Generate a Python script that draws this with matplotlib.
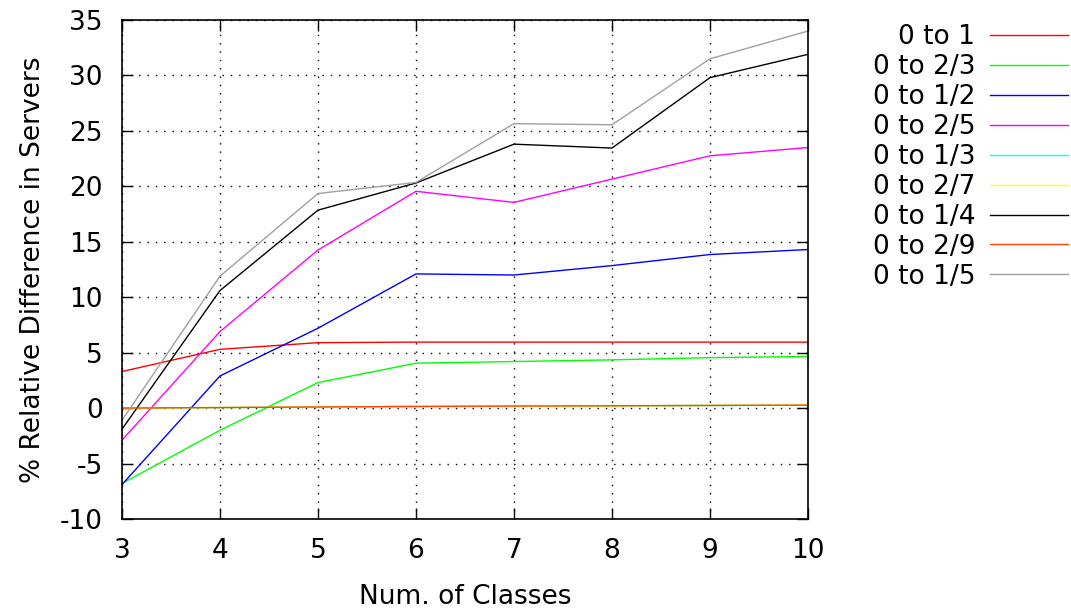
import numpy as np
import matplotlib
matplotlib.use('Agg')
import matplotlib.pyplot as plt

# number of classes on the x axis
classes = [3, 4, 5, 6, 7, 8, 9, 10]

# % relative difference in servers, one list per range
diff_1 = [3.3, 5.3, 5.9, 5.95, 5.95, 5.95, 5.95, 5.95]
diff_2_3 = [-6.8, -2.0, 2.3, 4.05, 4.2, 4.35, 4.55, 4.65]
diff_1_2 = [-6.9, 2.9, 7.2, 12.1, 12.0, 12.85, 13.85, 14.3]
diff_2_5 = [-2.9, 6.9, 14.25, 19.55, 18.55, 20.65, 22.75, 23.5]
diff_1_3 = [0.0, 0.04, 0.1, 0.14, 0.17, 0.2, 0.23, 0.26]
diff_2_7 = [0.0, 0.05, 0.1, 0.15, 0.18, 0.2, 0.24, 0.27]
diff_1_4 = [-1.9, 10.6, 17.85, 20.3, 23.8, 23.45, 29.8, 31.9]
diff_2_9 = [0.0, 0.05, 0.1, 0.15, 0.18, 0.21, 0.24, 0.27]
diff_1_5 = [-1.1, 11.9, 19.35, 20.35, 25.65, 25.55, 31.5, 34.0]

labels = ['0 to 1', '0 to 2/3', '0 to 1/2', '0 to 2/5', '0 to 1/3',
          '0 to 2/7', '0 to 1/4', '0 to 2/9', '0 to 1/5']
series = [diff_1, diff_2_3, diff_1_2, diff_2_5, diff_1_3,
          diff_2_7, diff_1_4, diff_2_9, diff_1_5]
colors = ['#ff0000', '#00ff00', '#0000ff', '#ff00ff', '#00ffff',
          '#ffff00', '#000000', '#ff4500', '#a0a0a0']

plt.rcParams['font.family'] = ['DejaVu Sans']
plt.rcParams['axes.unicode_minus'] = False
fig = plt.figure(figsize=(10.71, 6.11), dpi=100)
ax = fig.add_axes([0.1139, 0.1506, 0.6405, 0.8167])

for vals, lab, col in zip(series, labels, colors):
    ax.plot(classes, vals, color=col, lw=1.0, label=lab)

ax.set_xlim(3, 10)
ax.set_ylim(-10, 35)
ax.set_xticks(classes)
ax.set_yticks(np.arange(-10, 36, 5))
ax.grid(True, color='black', linestyle=(0, (1, 5)), linewidth=1.0)
ax.tick_params(direction='in', length=8, width=1, top=True, right=True,
               labelsize=19, pad=14)
for sp in ax.spines.values():
    sp.set_linewidth(1.2)

ax.set_xlabel('Num. of Classes', fontsize=19, labelpad=14)
ax.set_ylabel('% Relative Difference in Servers', fontsize=19, labelpad=10)

handles, labs = ax.get_legend_handles_labels()
fig.legend(handles, labs, loc='upper right', bbox_to_anchor=(1.007, 0.978),
           frameon=False, markerfirst=False, fontsize=19, handlelength=2.95,
           labelspacing=0.15, handletextpad=0.57, borderaxespad=0)

fig.savefig('out.png', dpi=100)
